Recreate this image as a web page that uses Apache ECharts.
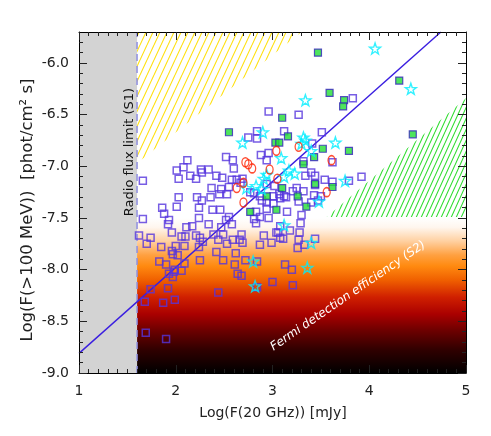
<!DOCTYPE html>
<html>
<head>
<meta charset="utf-8">
<script src="https://cdn.jsdelivr.net/npm/echarts@6/dist/echarts.min.js"></script>
<style>html,body{margin:0;padding:0;background:#fff}#c{width:491px;height:436px}</style>
</head>
<body>
<div id="c"></div>
<script>
// ---------- data ----------
const xRange = [1, 5];
const yRange = [-9.0, -5.7];
const xTickLabels = [1, 2, 3, 4, 5];
const yTickLabels = [-9.0, -8.5, -8.0, -7.5, -7.0, -6.5, -6.0];

const blueSquares = [
 [3.83,-6.34],[2.96,-6.47],[3.27,-6.50],[3.51,-6.67],[2.75,-6.72],[2.84,-6.66],[2.84,-6.73],[3.12,-6.66],
 [3.41,-6.78],[2.88,-6.89],[2.96,-6.87],[2.94,-6.94],[3.32,-6.95],[3.62,-6.96],[2.52,-6.91],[2.59,-6.94],
 [2.12,-6.94],[2.08,-7.01],[2.01,-7.04],[2.03,-7.12],[2.15,-7.09],[2.26,-7.03],[2.27,-7.06],[2.34,-7.03],
 [2.21,-7.12],[2.42,-7.09],[2.60,-7.02],[2.48,-7.11],[2.58,-7.13],[1.66,-7.14],[2.37,-7.21],[2.47,-7.22],
 [2.55,-7.20],[2.63,-7.13],[2.69,-7.12],[2.67,-7.16],[2.45,-7.27],[2.53,-7.27],[2.36,-7.30],[2.03,-7.30],
 [2.22,-7.30],[2.27,-7.33],[1.86,-7.40],[2.01,-7.39],[2.24,-7.40],[1.88,-7.46],[1.93,-7.52],[1.92,-7.56],
 [1.66,-7.51],[2.24,-7.50],[2.38,-7.42],[2.46,-7.42],[2.52,-7.52],[2.55,-7.49],[2.34,-7.56],[2.58,-7.56],
 [2.47,-7.59],[2.11,-7.59],[2.17,-7.58],[1.96,-7.64],[1.62,-7.67],[1.74,-7.69],[2.06,-7.68],[2.10,-7.68],
 [2.21,-7.67],[2.25,-7.69],[3.40,-7.06],[3.54,-7.13],[3.62,-7.15],[3.92,-7.10],[3.79,-7.14],[3.25,-7.21],
 [3.32,-7.24],[2.77,-7.25],[2.81,-7.26],[2.87,-7.29],[3.01,-7.29],[3.07,-7.27],[3.12,-7.29],[3.14,-7.30],
 [2.94,-7.35],[3.01,-7.36],[3.50,-7.29],[3.40,-7.35],[3.27,-7.34],[3.47,-7.33],[2.89,-7.33],[2.83,-7.44],
 [2.87,-7.49],[2.96,-7.50],[3.15,-7.44],[3.29,-7.55],[2.81,-7.51],[2.83,-7.55],[3.02,-7.19],[3.06,-7.64],
 [3.08,-7.69],[2.91,-7.67],[2.94,-7.17],[3.21,-7.24],[3.44,-7.18],[3.43,-7.28],[3.30,-7.47],[3.18,-7.62],
 [2.59,-7.71],[3.27,-7.71],[3.44,-7.70],[3.34,-7.09],[3.44,-7.09],[2.94,-7.41],[3.08,-7.31],[3.08,-7.58],
 [1.70,-7.75],[1.85,-7.78],[2.00,-7.77],[2.09,-7.77],[2.24,-7.78],[2.28,-7.73],[2.39,-7.66],[2.44,-7.71],
 [2.53,-7.75],[2.49,-7.66],[2.66,-7.71],[2.69,-7.74],[2.68,-7.66],[1.96,-7.82],[1.97,-7.85],[2.02,-7.86],
 [1.83,-7.92],[1.90,-7.95],[2.09,-7.94],[2.25,-7.91],[2.42,-7.83],[2.49,-7.91],[2.62,-7.84],[2.61,-7.95],
 [2.72,-7.91],[1.93,-8.04],[1.98,-8.02],[1.99,-8.00],[1.97,-8.07],[2.06,-8.01],[2.64,-8.04],[2.68,-8.06],
 [1.74,-8.19],[1.92,-8.18],[2.44,-8.22],[1.68,-8.31],[1.87,-8.32],[1.99,-8.29],[1.69,-8.61],[1.90,-8.67],
 [3.04,-7.64],[3.11,-7.70],[3.28,-7.64],[2.87,-7.76],[2.99,-7.74],[3.26,-7.79],[3.33,-7.76],[2.84,-7.92],
 [3.13,-7.95],[3.20,-8.00],[3.00,-8.12],[3.21,-8.15],[2.84,-8.17]
];
const greenSquares = [
 [3.47,-5.90],[4.31,-6.17],[3.59,-6.29],[3.74,-6.36],[3.73,-6.42],[3.10,-6.53],[4.45,-6.69],[2.55,-6.67],
 [3.16,-6.71],[3.03,-6.77],[3.07,-6.77],[3.52,-6.83],[3.79,-6.85],[3.43,-6.91],[3.32,-6.98],[3.44,-7.17],
 [3.62,-7.20],[3.10,-7.21],[2.94,-7.29],[3.26,-7.29],[3.35,-7.39],[2.77,-7.44],[3.04,-7.42]
];
const cyanStars = [
 [4.06,-5.86],[4.43,-6.25],[3.34,-6.36],[2.90,-6.67],[2.69,-6.77],[3.32,-6.72],[3.34,-6.75],[3.30,-6.78],
 [3.65,-6.77],[3.40,-6.85],[3.09,-6.92],[3.17,-7.04],[3.23,-7.07],[3.12,-7.10],[2.94,-7.08],[2.91,-7.12],
 [3.75,-7.14],[2.73,-7.21],[2.83,-7.19],[2.89,-7.22],[3.48,-7.34],[3.12,-7.57],[3.40,-7.74],[2.80,-7.92],
 [3.36,-7.98],[2.82,-8.16]
];
const redCircles = [
 [2.72,-6.96],[2.75,-6.98],[2.79,-7.02],[3.27,-6.81],[3.04,-6.85],[3.61,-6.94],[2.97,-7.03],[3.05,-7.12],
 [3.56,-7.25],[2.70,-7.16],[2.63,-7.21],[2.70,-7.35]
];
const fitLine = [[1.0,-8.81],[4.74,-5.70]];
const radioLimit = [[1.6,-9.0],[1.6,-5.7]];
const grayArea = [[1.0,-9.0],[1.6,-9.0],[1.6,-5.7],[1.0,-5.7]];
const yellowHatch = [[1.6,-5.7],[3.30,-5.7],[1.6,-6.97]];
const greenHatch = [[3.56,-7.49],[5.0,-6.34],[5.0,-7.49]];
const fermiArea = [[1.6,-7.5],[5.0,-7.5],[5.0,-9.0],[1.6,-9.0]];

// ---------- helpers ----------
function hatch(color, w, h, lw) {
  const c = document.createElement('canvas');
  c.width = w; c.height = h;
  const g = c.getContext('2d');
  g.strokeStyle = color; g.lineWidth = lw;
  g.beginPath();
  for (const o of [-w, 0, w]) { g.moveTo(o, h); g.lineTo(o + w, 0); }
  g.stroke();
  return c;
}
function region(poly, fill, z) {
  return {
    type: 'custom', z: z, silent: true, clip: true, data: [[poly[0][0], poly[0][1]]],
    renderItem: function (p, api) {
      return { type: 'polygon', shape: { points: poly.map(pt => api.coord(pt)) }, style: { fill: fill } };
    }
  };
}
const yMinor = [];
for (let v = -89; v <= -58; v++) { if (v % 5 !== 0) yMinor.push(v / 10); }

const starPath = 'path://M0,-10 L2.35,-3.24 L9.51,-3.09 L3.8,1.24 L5.88,8.09 L0,4 L-5.88,8.09 L-3.8,1.24 L-9.51,-3.09 L-2.35,-3.24 Z';
const FONT = 'DejaVu Sans';
const AXZ = 20;
const tickStyle = { color: '#222', width: 1 };
const axisCommon = { min: yRange[0], max: yRange[1], type: 'value', splitLine: { show: false }, z: AXZ };

const chart = echarts.init(document.getElementById('c'), null, { renderer: 'canvas' });
chart.setOption({
  animation: false,
  backgroundColor: '#fff',
  grid: { left: 79, right: 25, top: 32, bottom: 63 },
  xAxis: [
    { type: 'value', min: xRange[0], max: xRange[1], interval: 1, position: 'bottom', z: AXZ,
      axisLine: { show: true, lineStyle: { color: '#000', width: 1 } },
      axisTick: { show: true, inside: true, length: 8, lineStyle: tickStyle },
      minorTick: { show: true, splitNumber: 10, length: 4, lineStyle: tickStyle },
      axisLabel: { fontSize: 14, fontFamily: FONT, color: '#222', margin: 11,
        formatter: v => (xTickLabels.indexOf(v) >= 0 ? String(v) : '') },
      splitLine: { show: false } },
    { type: 'value', min: xRange[0], max: xRange[1], interval: 1, position: 'top', z: AXZ,
      axisLine: { show: true, lineStyle: { color: '#000', width: 1 } },
      axisTick: { show: true, inside: true, length: 8, lineStyle: tickStyle },
      minorTick: { show: true, splitNumber: 10, length: 4, lineStyle: tickStyle },
      axisLabel: { show: false }, splitLine: { show: false } }
  ],
  yAxis: [
    Object.assign({}, axisCommon, { position: 'left',
      axisLine: { show: true, lineStyle: { color: '#000', width: 1 } },
      axisTick: { show: true, inside: true, length: 8, customValues: yTickLabels, lineStyle: tickStyle },
      axisLabel: { fontSize: 14, fontFamily: FONT, color: '#222', margin: 10,
        customValues: yTickLabels, formatter: v => v.toFixed(1) } }),
    Object.assign({}, axisCommon, { position: 'left',
      axisLine: { show: false },
      axisTick: { show: true, inside: true, length: 4, customValues: yMinor, lineStyle: tickStyle },
      axisLabel: { show: false } }),
    Object.assign({}, axisCommon, { position: 'right',
      axisLine: { show: true, lineStyle: { color: '#000', width: 1 } },
      axisTick: { show: true, inside: true, length: 8, customValues: yTickLabels, lineStyle: tickStyle },
      axisLabel: { show: false } }),
    Object.assign({}, axisCommon, { position: 'right',
      axisLine: { show: false },
      axisTick: { show: true, inside: true, length: 4, customValues: yMinor, lineStyle: tickStyle },
      axisLabel: { show: false } })
  ],
  series: [
    region(fermiArea, { type: 'linear', x: 0, y: 0, x2: 0, y2: 1, colorStops: [
      { offset: 0, color: '#ffffff' }, { offset: 0.06, color: '#fff6ee' },
      { offset: 0.15, color: '#ffd0a0' }, { offset: 0.24, color: '#ffa040' },
      { offset: 0.31, color: '#ff8a10' }, { offset: 0.40, color: '#f06000' },
      { offset: 0.51, color: '#d02000' }, { offset: 0.62, color: '#aa0000' },
      { offset: 0.72, color: '#700000' }, { offset: 0.85, color: '#300000' },
      { offset: 1, color: '#000000' } ] }, 1),
    region(grayArea, '#d3d3d3', 1),
    region(yellowHatch, { image: hatch('#ffe010', 7, 15, 1.1), repeat: 'repeat' }, 1),
    region(greenHatch, { image: hatch('#30dd30', 5, 11, 1.1), repeat: 'repeat' }, 1),
    { type: 'line', data: radioLimit, symbol: 'none', z: 2, silent: true,
      lineStyle: { color: '#8f8fe0', width: 1.5, type: [7, 5] } },
    { type: 'line', data: fitLine, symbol: 'none', z: 3, silent: true,
      lineStyle: { color: '#3a1ee0', width: 1.4 } },
    { type: 'scatter', data: blueSquares, symbol: 'rect', symbolSize: 7, z: 4,
      itemStyle: { color: 'rgba(0,0,0,0)', borderColor: '#5535dd', borderWidth: 1.5 } },
    { type: 'scatter', data: greenSquares, symbol: 'rect', symbolSize: 7, z: 5,
      itemStyle: { color: '#22dd33', borderColor: '#3322bb', borderWidth: 1.2 } },
    { type: 'scatter', data: cyanStars, symbol: starPath, symbolSize: 11, z: 6,
      itemStyle: { color: 'rgba(0,0,0,0)', borderColor: '#00eeff', borderWidth: 1.4 } },
    { type: 'scatter', data: redCircles, symbol: 'circle', symbolSize: [7, 9], z: 7,
      itemStyle: { color: 'rgba(0,0,0,0)', borderColor: '#ff2200', borderWidth: 1.4 } }
  ],
  graphic: [
    { type: 'text', x: 28, y: 210, rotation: Math.PI / 2, z: 50,
      style: { text: 'Log(F(>100 MeV))  [phot/cm² s]', fontSize: 16.5, fontFamily: FONT, fill: '#222',
        align: 'center', verticalAlign: 'middle' } },
    { type: 'text', x: 273, y: 413, z: 50,
      style: { text: 'Log(F(20 GHz)) [mJy]', fontSize: 14, fontFamily: FONT, fill: '#222',
        align: 'center', verticalAlign: 'middle' } },
    { type: 'text', x: 130, y: 152, rotation: Math.PI / 2, z: 50,
      style: { text: 'Radio flux limit (S1)', fontSize: 13, fontFamily: FONT, fill: '#111',
        align: 'center', verticalAlign: 'middle' } },
    { type: 'text', x: 348, y: 296, rotation: 0.6, z: 50,
      style: { text: 'Fermi detection efficiency (S2)', fontSize: 12, fontStyle: 'italic', fontFamily: FONT, fill: '#fff',
        align: 'center', verticalAlign: 'middle' } }
  ]
});
</script>
</body>
</html>
